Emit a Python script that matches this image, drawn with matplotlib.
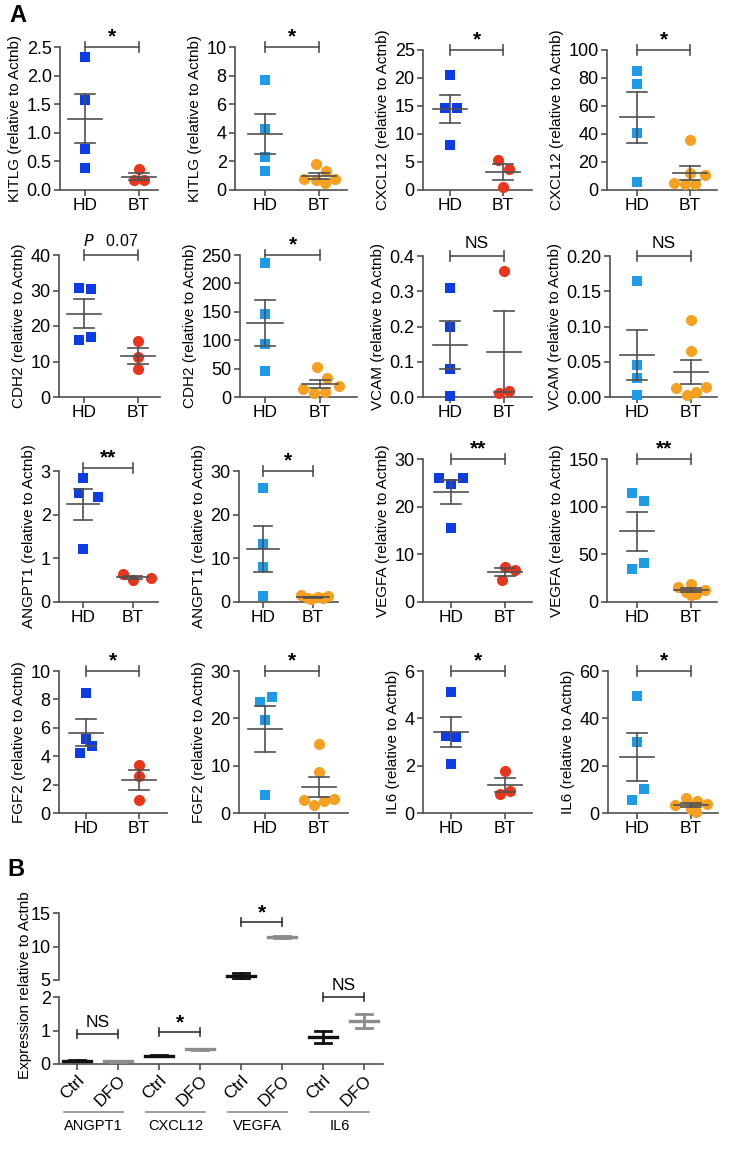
import numpy as np
import matplotlib
matplotlib.use("Agg")
import matplotlib.pyplot as plt

plt.rcParams['font.family'] = ['Liberation Sans', 'DejaVu Sans']

# ---------------- DATA (panel A) ----------------
groups = ['HD', 'BT']

kitlg1_hd = [2.32, 1.58, 0.72, 0.38]
kitlg1_bt = [0.36, 0.17, 0.17]
kitlg2_hd = [7.7, 4.3, 2.3, 1.35]
kitlg2_bt = [1.85, 1.35, 0.8, 0.75, 0.7, 0.5]
cxcl1_hd = [20.5, 14.7, 14.7, 8.1]
cxcl1_bt = [5.4, 3.7, 0.6]
cxcl2_hd = [85, 76, 41, 5.5]
cxcl2_bt = [35.5, 12, 11, 5, 4, 4]

cdh1_hd = [30.7, 30.4, 16.8, 16.0]
cdh1_bt = [15.7, 11.3, 7.8]
cdh2_hd = [236, 147, 93, 45]
cdh2_bt = [53, 33, 20, 14, 8, 7]
vcam1_hd = [0.31, 0.20, 0.08, 0.003]
vcam1_bt = [0.358, 0.017, 0.010]
vcam2_hd = [0.164, 0.045, 0.027, 0.003]
vcam2_bt = [0.109, 0.065, 0.014, 0.013, 0.007, 0.003]

angpt1_hd = [2.84, 2.50, 2.40, 1.21]
angpt1_bt = [0.63, 0.56, 0.50]
angpt2_hd = [26, 13.2, 8, 1.3]
angpt2_bt = [1.5, 1.3, 1.2, 1.0, 0.9, 0.6]
vegfa1_hd = [26.1, 26.0, 24.8, 15.6]
vegfa1_bt = [7.4, 6.8, 4.6]
vegfa2_hd = [114, 106, 41, 35]
vegfa2_bt = [19, 16, 13, 11, 8, 7]

fgf1_hd = [8.45, 5.2, 4.75, 4.2]
fgf1_bt = [3.4, 2.6, 0.95]
fgf2_hd = [24.5, 23.4, 19.6, 3.7]
fgf2_bt = [14.5, 8.7, 2.9, 2.8, 2.6, 1.7]
il61_hd = [5.12, 3.25, 3.2, 2.08]
il61_bt = [1.78, 0.93, 0.82]
il62_hd = [49.5, 30, 10, 5.5]
il62_bt = [6.5, 5, 4, 3.5, 1.5, 0.5]

# ---------------- DATA (panel B) ----------------
b_genes = ['ANGPT1', 'CXCL12', 'VEGFA', 'IL6']
b_conditions = ['Ctrl', 'DFO']
b_ctrl_mean = [0.10, 0.25, 5.65, 0.82]
b_ctrl_sem = [0.02, 0.02, 0.45, 0.18]
b_dfo_mean = [0.08, 0.44, 11.4, 1.28]
b_dfo_sem = [0.01, 0.01, 0.12, 0.20]
b_sig = ['NS', '*', '*', 'NS']

# ---------------- STYLE / LAYOUT ----------------
W, H = 743, 1173
fig = plt.figure(figsize=(W / 100, H / 100), dpi=100)

DARK_BLUE = '#0b3ce6'
LIGHT_BLUE = '#1e9be8'
RED = '#e8351c'
ORANGE = '#f5a021'
AX_COL = '#505050'
LW = 1.2

def add_ax(l, r, t, b):
    return fig.add_axes([l / W, 1 - b / H, (r - l) / W, (b - t) / H])

# panel specs: (hd, bt, gene, yticks, fmt, sig, box(l,r,t,b), hd_px, bt_px, colour set, jitter_hd, jitter_bt, bracket_y)
panels = [
    (kitlg1_hd, kitlg1_bt, 'KITLG', [0, 0.5, 1.0, 1.5, 2.0, 2.5], '{:.1f}', '*', (60, 158, 47, 190), 85, 139, 1,
     [0, 0, 0, 0], [0, -0.1, 0.1], 2.5),
    (kitlg2_hd, kitlg2_bt, 'KITLG', [0, 2, 4, 6, 8, 10], '{:.0f}', '*', (235, 347, 47, 190), 265, 319, 2,
     [0, 0, 0, 0], [-0.05, 0.13, 0.3, -0.28, -0.05, 0.12], 10),
    (cxcl1_hd, cxcl1_bt, 'CXCL12', [0, 5, 10, 15, 20, 25], '{:.0f}', '*', (423, 532, 50, 190), 450, 503, 1,
     [0, -0.1, 0.13, 0], [-0.1, 0.12, 0], 25),
    (cxcl2_hd, cxcl2_bt, 'CXCL12', [0, 20, 40, 60, 80, 100], '{:.0f}', '*', (607, 717, 50, 190), 637, 690, 2,
     [0, 0, 0, 0], [0, 0, 0.28, -0.3, -0.1, 0.1], 100),

    (cdh1_hd, cdh1_bt, 'CDH2', [0, 10, 20, 30, 40], '{:.0f}', 'P07', (59, 160, 255, 397), 84, 138, 1,
     [-0.1, 0.13, 0.13, -0.1], [0, 0, 0], 40),
    (cdh2_hd, cdh2_bt, 'CDH2', [0, 50, 100, 150, 200, 250], '{:.0f}', '*', (240, 357, 255, 397), 265, 320, 2,
     [0, 0, 0, 0], [-0.05, 0.12, 0.35, -0.3, 0.1, -0.1], 250),
    (vcam1_hd, vcam1_bt, 'VCAM', [0, 0.1, 0.2, 0.3, 0.4], '{:.1f}', 'NS', (423, 532, 256, 397), 450, 504, 1,
     [0, 0, 0, 0], [0, 0.1, -0.1], 0.4),
    (vcam2_hd, vcam2_bt, 'VCAM', [0, 0.05, 0.10, 0.15, 0.20], '{:.2f}', 'NS', (610, 717, 256, 397), 637, 691, 2,
     [0, 0, 0, 0], [0, 0, 0.27, -0.27, 0.1, -0.08], 0.2),

    (angpt1_hd, angpt1_bt, 'ANGPT1', [0, 1, 2, 3], '{:.0f}', '**', (59, 158, 471, 602), 83, 133, 1,
     [0, -0.08, 0.3, 0], [-0.2, 0.35, 0], 3.07),
    (angpt2_hd, angpt2_bt, 'ANGPT1', [0, 10, 20, 30], '{:.0f}', '*', (239, 338, 471, 602), 263, 313, 2,
     [0, 0, 0, 0], [-0.25, 0.3, 0.1, -0.1, 0.2, -0.05], 30),
    (vegfa1_hd, vegfa1_bt, 'VEGFA', [0, 10, 20, 30], '{:.0f}', '**', (423, 532, 459, 602), 451, 505, 1,
     [-0.22, 0.22, 0, 0], [0, 0.18, -0.05], 30),
    (vegfa2_hd, vegfa2_bt, 'VEGFA', [0, 50, 100, 150], '{:.0f}', '**', (607, 717, 459, 602), 637, 691, 2,
     [-0.1, 0.13, 0.13, -0.1], [0, -0.25, 0.25, -0.1, 0.1, 0], 150),

    (fgf1_hd, fgf1_bt, 'FGF2', [0, 2, 4, 6, 8, 10], '{:.0f}', '*', (59, 167, 671, 813), 86, 139, 1,
     [0, 0, 0.11, -0.11], [0, 0, 0], 10),
    (fgf2_hd, fgf2_bt, 'FGF2', [0, 10, 20, 30], '{:.0f}', '*', (239, 348, 671, 813), 265, 319, 2,
     [0.13, -0.09, 0, 0], [0, 0, 0.28, -0.28, 0.1, -0.1], 30),
    (il61_hd, il61_bt, 'IL6', [0, 2, 4, 6], '{:.0f}', '*', (423, 532, 671, 813), 451, 505, 1,
     [0, -0.1, 0.1, 0], [0, 0.1, -0.1], 6),
    (il62_hd, il62_bt, 'IL6', [0, 20, 40, 60], '{:.0f}', '*', (608, 718, 671, 813), 637, 691, 2,
     [0, 0, 0.13, -0.1], [-0.1, 0.12, 0.3, -0.3, 0.0, 0.1], 60),
]


def style_axis(ax):
    for s in ['top', 'right']:
        ax.spines[s].set_visible(False)
    for s in ['left', 'bottom']:
        ax.spines[s].set_color(AX_COL)
        ax.spines[s].set_linewidth(LW)
    ax.tick_params(colors=AX_COL, width=LW, length=4, labelcolor='black', pad=2)
    ax.tick_params(axis='y', labelsize=13)
    ax.tick_params(axis='x', labelsize=12.5)


def px_to_data_y(ax, px):
    y0, y1 = ax.get_ylim()
    h = ax.get_position().height * H
    return px * (y1 - y0) / h


for (hd, bt, gene, yticks, fmt, sig, box, hdx, btx, ctype, jh, jb, by) in panels:
    l, r, t, b = box
    ax = add_ax(l, r, t, b)
    ppu = btx - hdx
    ax.set_xlim(1 - (hdx - l) / ppu, 2 + (r - btx) / ppu)
    ax.set_ylim(yticks[0], yticks[-1])
    style_axis(ax)
    ax.set_yticks(yticks)
    ax.set_yticklabels([fmt.format(v) for v in yticks])
    ax.set_xticks([1, 2])
    ax.set_xticklabels(groups)
    ax.set_ylabel(f'{gene} (relative to Actnb)', fontsize=11, labelpad=3)
    c_hd = DARK_BLUE if ctype == 1 else LIGHT_BLUE
    c_bt = RED if ctype == 1 else ORANGE
    ax.plot(1 + np.array(jh), hd, 's', color=c_hd, ms=7.2, mew=0, clip_on=False, zorder=3)
    ax.plot(2 + np.array(jb), bt, 'o', color=c_bt, ms=8, mew=0, clip_on=False, zorder=3)
    for xc, vals in [(1, hd), (2, bt)]:
        v = np.array(vals, dtype=float)
        m = v.mean()
        s = v.std(ddof=1) / np.sqrt(len(v))
        ax.plot([xc - 0.32, xc + 0.32], [m, m], color=AX_COL, lw=LW, zorder=4, clip_on=False)
        ax.plot([xc, xc], [m - s, m + s], color=AX_COL, lw=LW, zorder=4, clip_on=False)
        for yy in (m - s, m + s):
            ax.plot([xc - 0.18, xc + 0.18], [yy, yy], color=AX_COL, lw=LW, zorder=4, clip_on=False)
    # bracket
    d = px_to_data_y(ax, 5)
    ax.plot([1, 2], [by, by], color=AX_COL, lw=LW, clip_on=False)
    for xx in (1, 2):
        ax.plot([xx, xx], [by - d, by + d], color=AX_COL, lw=LW, clip_on=False)
    if sig == 'P07':
        ax.text(1.5, by + px_to_data_y(ax, 6), r'$\it{P}$   0.07', ha='center', va='bottom', fontsize=11.5)
    elif sig == 'NS':
        ax.text(1.5, by + px_to_data_y(ax, 5), 'NS', ha='center', va='bottom', fontsize=12.5)
    else:
        ax.text(1.5, by + px_to_data_y(ax, 1), sig, ha='center', va='bottom', fontsize=15, fontweight='bold')

# ---------------- Panel B ----------------
xpos = np.arange(len(b_genes) * 2)
bl, br = 59, 383
ctrl_px, step_px = 77, 41
xlim = (-(ctrl_px - bl) / step_px, 7 + (br - (ctrl_px + 7 * step_px)) / step_px)

ax_top = add_ax(bl, br, 913, 980)
ax_bot = add_ax(bl, br, 997, 1064)
ax_top.set_ylim(5, 15)
ax_bot.set_ylim(0, 2)
for ax in (ax_top, ax_bot):
    ax.set_xlim(*xlim)
    style_axis(ax)
ax_top.spines['bottom'].set_visible(False)
ax_top.set_xticks([])
ax_top.set_yticks([5, 10, 15])
ax_bot.set_yticks([0, 1, 2])
ax_bot.set_xticks(xpos)
ax_bot.set_xticklabels(b_conditions * len(b_genes), rotation=45, ha='right',
                       rotation_mode='anchor', fontsize=12.5)

for i, g in enumerate(b_genes):
    for k, (means, sems, col) in enumerate([(b_ctrl_mean, b_ctrl_sem, '#111111'),
                                            (b_dfo_mean, b_dfo_sem, '#8c8c8c')]):
        xc = 2 * i + k
        m, s = means[i], sems[i]
        for ax in (ax_top, ax_bot):
            ax.plot([xc - 0.35, xc + 0.35], [m, m], color=col, lw=2.4, zorder=3)
            ax.plot([xc, xc], [m - s, m + s], color=col, lw=2.0, zorder=3)
            for yy in (m - s, m + s):
                ax.plot([xc - 0.2, xc + 0.2], [yy, yy], color=col, lw=2.0, zorder=3)

# significance brackets in B
b_br_y = [0.9, 0.95, 13.6, 2.0]
for i, g in enumerate(b_genes):
    ax = ax_top if b_br_y[i] > 2.5 else ax_bot
    y = b_br_y[i]
    d = px_to_data_y(ax, 4)
    x1, x2 = 2 * i, 2 * i + 1
    ax.plot([x1, x2], [y, y], color='#333333', lw=LW, clip_on=False)
    for xx in (x1, x2):
        ax.plot([xx, xx], [y - d, y + d], color='#333333', lw=LW, clip_on=False)
    if b_sig[i] == 'NS':
        ax.text((x1 + x2) / 2, y + px_to_data_y(ax, 4), 'NS', ha='center', va='bottom', fontsize=12.5)
    else:
        ax.text((x1 + x2) / 2, y + px_to_data_y(ax, 0), '*', ha='center', va='bottom',
                fontsize=15, fontweight='bold')

# gene group lines and labels
for i, g in enumerate(b_genes):
    xl = (ctrl_px + 2 * i * step_px - 13)
    xr = (ctrl_px + (2 * i + 1) * step_px + 5)
    fig.add_artist(plt.Line2D([xl / W, xr / W], [1 - 1112 / H, 1 - 1112 / H], color='#8c8c8c', lw=1.2))
    fig.text((xl + xr) / 2 / W, 1 - 1126 / H, g, ha='center', va='center', fontsize=10.5)

fig.text(25 / W, 1 - 985 / H, 'Expression relative to Actnb', rotation=90, ha='center', va='center', fontsize=11)

# panel letters
fig.text(9 / W, 1 - 16 / H, 'A', fontsize=17, fontweight='bold', ha='left', va='center')
fig.text(7 / W, 1 - 870 / H, 'B', fontsize=17, fontweight='bold', ha='left', va='center')

fig.savefig('out.png', dpi=100)
